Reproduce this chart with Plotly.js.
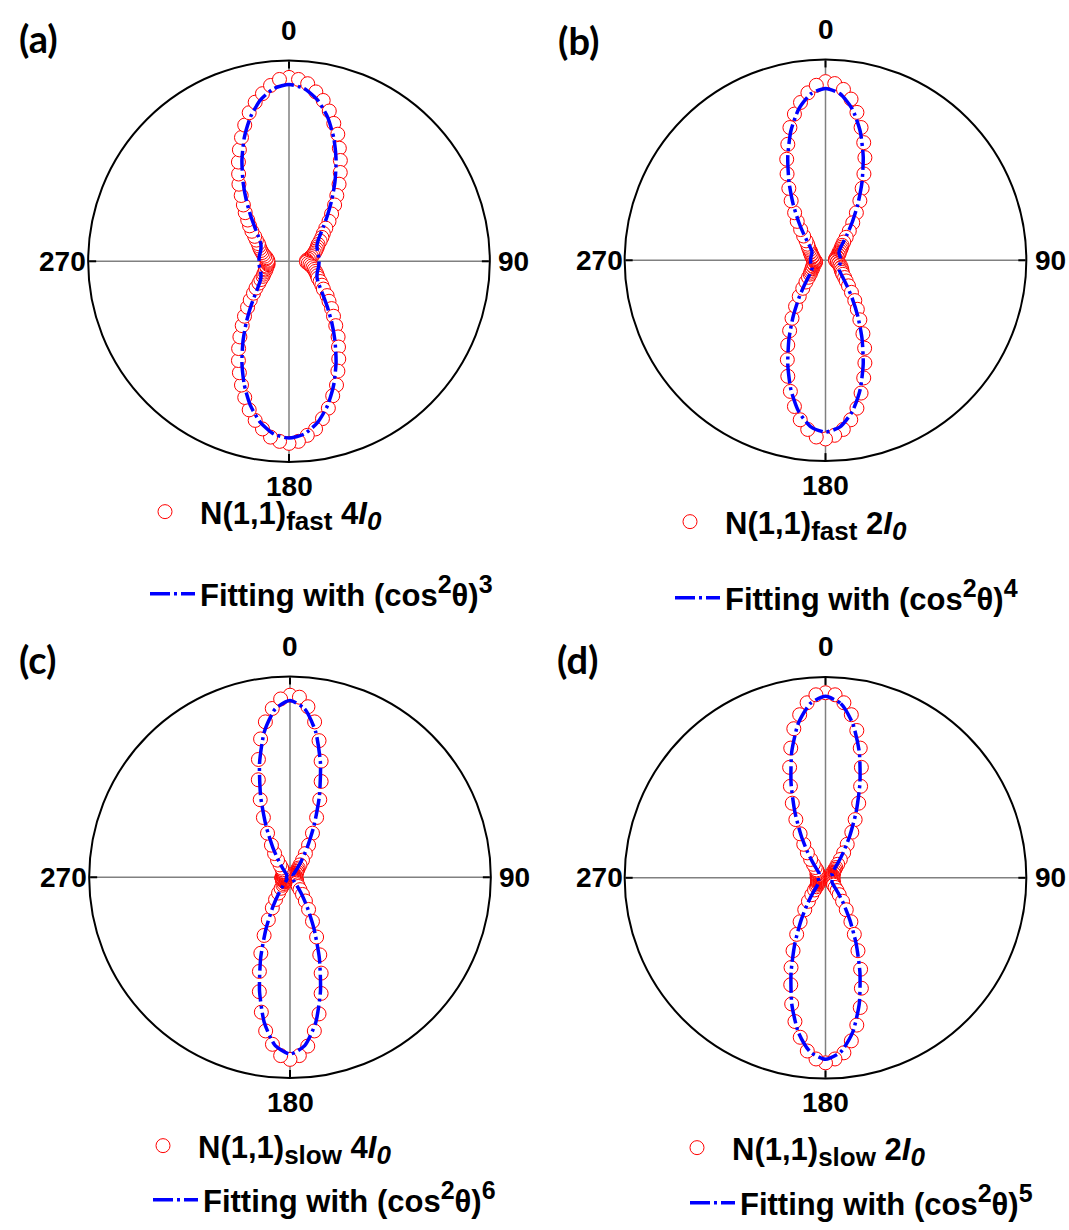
<!DOCTYPE html>
<html>
<head>
<meta charset="utf-8">
<script src="https://cdn.plot.ly/plotly-3.0.1.min.js"></script>
<style>
html,body{margin:0;padding:0;background:#ffffff;}
#chart{width:1069px;height:1230px;}
</style>
</head>
<body>
<div id="chart"></div>
<script>
// ---- labels ----
const panelLetters = ['(a)', '(b)', '(c)', '(d)'];
const SUB = s => '<sub><span style="font-size:26px">' + s + '</span></sub>';
const dataNames = [
  'N(1,1)' + SUB('fast') + ' 4<i>I</i>' + SUB('<i>0</i>'),
  'N(1,1)' + SUB('fast') + ' 2<i>I</i>' + SUB('<i>0</i>'),
  'N(1,1)' + SUB('slow') + ' 4<i>I</i>' + SUB('<i>0</i>'),
  'N(1,1)' + SUB('slow') + ' 2<i>I</i>' + SUB('<i>0</i>')
];
const SUP = s => '<sup><span style="font-size:25px">' + s + '</span></sup>';
const fitNames = [
  'Fitting with (cos' + SUP('2') + 'θ)' + SUP('3'),
  'Fitting with (cos' + SUP('2') + 'θ)' + SUP('4'),
  'Fitting with (cos' + SUP('2') + 'θ)' + SUP('6'),
  'Fitting with (cos' + SUP('2') + 'θ)' + SUP('5')
];
const angleTicks = [0, 90, 180, 270];
const angleLabels = ['0', '90', '180', '270'];

// ---- measured points (polarization angle, deg) ----
const dataAngles = [
  0,3,6,9,12,15,18,21,24,27,30,33,36,39,42,45,48,51,54,57,60,63,66,69,72,75,78,81,84,87,
  90,93,96,99,102,105,108,111,114,117,120,123,126,129,132,135,138,141,144,147,150,153,156,159,162,165,168,171,174,177,
  180,183,186,189,192,195,198,201,204,207,210,213,216,219,222,225,228,231,234,237,240,243,246,249,252,255,258,261,264,267,
  270,273,276,279,282,285,288,291,294,297,300,303,306,309,312,315,318,321,324,327,330,333,336,339,342,345,348,351,354,357
];
const dataA = [
  1.04,1.03,1.01,0.97,0.93,0.88,0.82,0.77,0.70,0.64,0.58,0.52,0.46,0.41,0.36,0.32,0.28,0.25,0.23,0.21,0.19,0.18,0.17,0.16,0.15,0.14,0.13,0.12,0.11,0.10,
  0.10,0.10,0.11,0.12,0.13,0.14,0.15,0.16,0.17,0.18,0.19,0.21,0.23,0.25,0.29,0.32,0.36,0.40,0.45,0.51,0.56,0.62,0.68,0.75,0.80,0.86,0.91,0.96,0.99,1.02,
  1.03,1.02,1.00,0.96,0.92,0.87,0.81,0.75,0.69,0.63,0.57,0.51,0.45,0.40,0.35,0.31,0.27,0.24,0.21,0.19,0.17,0.16,0.15,0.14,0.14,0.13,0.13,0.12,0.12,0.12,
  0.12,0.12,0.13,0.13,0.14,0.15,0.16,0.17,0.18,0.19,0.20,0.22,0.24,0.27,0.30,0.33,0.37,0.41,0.46,0.52,0.57,0.63,0.69,0.75,0.81,0.87,0.92,0.96,1.00,1.03
];
const dataB = [
  1.04,1.03,1.00,0.95,0.88,0.80,0.72,0.64,0.55,0.47,0.40,0.33,0.27,0.22,0.18,0.15,0.13,0.12,0.11,0.10,0.09,0.09,0.08,0.08,0.07,0.07,0.07,0.06,0.06,0.06,
  0.06,0.06,0.07,0.07,0.08,0.08,0.09,0.09,0.10,0.10,0.11,0.11,0.12,0.13,0.15,0.17,0.20,0.24,0.29,0.34,0.40,0.48,0.56,0.64,0.72,0.80,0.88,0.94,0.99,1.02,
  1.04,1.03,0.99,0.94,0.87,0.79,0.71,0.62,0.54,0.46,0.39,0.32,0.26,0.21,0.17,0.14,0.12,0.11,0.10,0.09,0.09,0.08,0.08,0.07,0.07,0.07,0.06,0.06,0.06,0.06,
  0.065,0.07,0.07,0.07,0.08,0.08,0.08,0.09,0.09,0.10,0.10,0.11,0.12,0.13,0.14,0.16,0.19,0.23,0.28,0.33,0.40,0.47,0.55,0.63,0.71,0.80,0.87,0.93,0.98,1.02
];
const dataC = [
  1.03,1.02,0.97,0.89,0.79,0.68,0.57,0.47,0.37,0.28,0.21,0.16,0.12,0.09,0.07,0.06,0.05,0.05,0.04,0.04,0.04,0.04,0.03,0.03,0.03,0.03,0.03,0.03,0.03,0.03,
  0.03,0.03,0.03,0.03,0.03,0.03,0.035,0.035,0.04,0.04,0.04,0.04,0.045,0.05,0.05,0.06,0.07,0.09,0.12,0.16,0.21,0.28,0.37,0.47,0.57,0.68,0.79,0.88,0.96,1.01,
  1.03,1.01,0.95,0.88,0.78,0.67,0.56,0.46,0.36,0.27,0.20,0.15,0.11,0.08,0.06,0.05,0.04,0.04,0.04,0.04,0.04,0.04,0.04,0.045,0.045,0.045,0.045,0.045,0.045,0.045,
  0.045,0.045,0.04,0.04,0.04,0.04,0.04,0.04,0.04,0.04,0.04,0.04,0.045,0.05,0.05,0.06,0.07,0.09,0.12,0.16,0.21,0.28,0.37,0.47,0.58,0.69,0.80,0.89,0.96,1.01
];
const dataD = [
  1.02,1.01,0.97,0.91,0.83,0.74,0.64,0.54,0.45,0.36,0.29,0.22,0.17,0.13,0.10,0.08,0.07,0.06,0.05,0.05,0.05,0.05,0.04,0.04,0.04,0.04,0.04,0.04,0.04,0.04,
  0.04,0.04,0.04,0.04,0.04,0.04,0.04,0.045,0.045,0.045,0.05,0.05,0.05,0.055,0.06,0.075,0.095,0.12,0.16,0.21,0.28,0.35,0.44,0.54,0.64,0.74,0.83,0.91,0.97,1.00,
  1.02,1.00,0.96,0.89,0.81,0.72,0.62,0.53,0.44,0.35,0.28,0.21,0.16,0.12,0.09,0.07,0.06,0.05,0.05,0.045,0.045,0.045,0.045,0.045,0.045,0.045,0.045,0.045,0.045,0.045,
  0.045,0.045,0.045,0.045,0.045,0.045,0.045,0.05,0.05,0.05,0.05,0.05,0.055,0.06,0.065,0.08,0.10,0.13,0.17,0.22,0.28,0.36,0.45,0.54,0.64,0.74,0.84,0.91,0.97,1.01
];

// ---- fitted curves ----
const fitAngles = [
  0,5,10,15,20,25,30,35,40,45,50,55,60,65,70,75,80,85,90,
  95,100,105,110,115,120,125,130,135,140,145,150,155,160,165,170,175,180,
  185,190,195,200,205,210,215,220,225,230,235,240,245,250,255,260,265,270,
  275,280,285,290,295,300,305,310,315,320,325,330,335,340,345,350,355,360
];
const fitA = [
  1.000,0.981,0.927,0.844,0.741,0.630,0.520,0.421,0.338,0.274,0.229,0.200,0.183,0.175,0.171,0.170,0.170,0.170,0.170,
  0.170,0.170,0.170,0.171,0.175,0.183,0.200,0.229,0.274,0.338,0.421,0.520,0.630,0.741,0.844,0.927,0.981,1.000,
  0.981,0.927,0.844,0.741,0.630,0.520,0.421,0.338,0.274,0.229,0.200,0.183,0.175,0.171,0.170,0.170,0.170,0.170,
  0.170,0.170,0.170,0.171,0.175,0.183,0.200,0.229,0.274,0.338,0.421,0.520,0.630,0.741,0.844,0.927,0.981,1.000
];
const fitB = [
  1.000,0.973,0.895,0.779,0.642,0.503,0.376,0.272,0.195,0.144,0.114,0.098,0.091,0.088,0.087,0.087,0.087,0.087,0.087,
  0.087,0.087,0.087,0.087,0.088,0.091,0.098,0.114,0.144,0.195,0.272,0.376,0.503,0.642,0.779,0.895,0.973,1.000,
  0.973,0.895,0.779,0.642,0.503,0.376,0.272,0.195,0.144,0.114,0.098,0.091,0.088,0.087,0.087,0.087,0.087,0.087,
  0.087,0.087,0.087,0.087,0.088,0.091,0.098,0.114,0.144,0.195,0.272,0.376,0.503,0.642,0.779,0.895,0.973,1.000
];
const fitC = [
  1.000,0.956,0.836,0.666,0.485,0.321,0.194,0.109,0.060,0.035,0.025,0.021,0.020,0.020,0.020,0.020,0.020,0.020,0.020,
  0.020,0.020,0.020,0.020,0.020,0.020,0.021,0.025,0.035,0.060,0.109,0.194,0.321,0.485,0.666,0.836,0.956,1.000,
  0.956,0.836,0.666,0.485,0.321,0.194,0.109,0.060,0.035,0.025,0.021,0.020,0.020,0.020,0.020,0.020,0.020,0.020,
  0.020,0.020,0.020,0.020,0.020,0.020,0.021,0.025,0.035,0.060,0.109,0.194,0.321,0.485,0.666,0.836,0.956,1.000
];
const fitD = [
  1.000,0.964,0.864,0.719,0.555,0.399,0.268,0.171,0.107,0.070,0.052,0.044,0.041,0.040,0.040,0.040,0.040,0.040,0.040,
  0.040,0.040,0.040,0.040,0.040,0.041,0.044,0.052,0.070,0.107,0.171,0.268,0.399,0.555,0.719,0.864,0.964,1.000,
  0.964,0.864,0.719,0.555,0.399,0.268,0.171,0.107,0.070,0.052,0.044,0.041,0.040,0.040,0.040,0.040,0.040,0.040,
  0.040,0.040,0.040,0.040,0.040,0.041,0.044,0.052,0.070,0.107,0.171,0.268,0.399,0.555,0.719,0.864,0.964,1.000
];
// outer radius of each polar frame (same units as the data)
const radialMax = [1.136, 1.169, 1.136, 1.107];

// ---- presentation ----
const W = 1069, H = 1230;
const FONT = 'Liberation Sans, Arial, sans-serif';
const allData = [dataA, dataB, dataC, dataD];
const allFit = [fitA, fitB, fitC, fitD];
// polar frame centres / radius in pixels
const frames = [
  {cx: 289, cy: 261.5, R: 201},
  {cx: 825.5, cy: 260.5, R: 201},
  {cx: 290, cy: 878, R: 201},
  {cx: 825.5, cy: 878.5, R: 201}
];
// legend rows: text start x and row centre y (pixels)
const dataLegPos = [{tx: 200, y: 512}, {tx: 725, y: 522}, {tx: 198, y: 1146}, {tx: 732, y: 1148}];
const fitLegPos = [{tx: 200, y: 594}, {tx: 725, y: 598}, {tx: 203, y: 1200}, {tx: 740, y: 1204}];
const letterPos = [{x: 38, y: 38}, {x: 578, y: 40}, {x: 37, y: 660}, {x: 577, y: 660}];

const traces = [];
const layout = {
  width: W, height: H,
  margin: {l: 0, r: 0, t: 0, b: 0},
  paper_bgcolor: '#ffffff',
  showlegend: true,
  annotations: []
};
const tickFont = {family: FONT, size: 28, color: '#000000', weight: 'bold'};
const legFont = {family: FONT, size: 31, color: '#000000', weight: 'bold'};

for (let i = 0; i < 4; i++) {
  const pk = i === 0 ? 'polar' : 'polar' + (i + 1);
  const lgData = i === 0 ? 'legend' : 'legend' + (2 * i + 1);
  const lgFit = 'legend' + (2 * i + 2);
  traces.push({
    type: 'scatterpolar', subplot: pk, mode: 'markers',
    r: allData[i], theta: dataAngles, name: dataNames[i],
    legend: lgData, showlegend: true,
    marker: {symbol: 'circle', size: 14, color: '#ffffff', line: {color: '#ff0000', width: 1}},
    hoverinfo: 'skip'
  });
  traces.push({
    type: 'scatterpolar', subplot: pk, mode: 'lines',
    r: allFit[i], theta: fitAngles, name: fitNames[i],
    legend: lgFit, showlegend: true,
    line: {color: '#0000ff', width: 3.5, dash: '20px,4px,3px,4px', shape: 'spline', smoothing: 0.6},
    hoverinfo: 'skip'
  });
  const f = frames[i];
  layout[pk] = {
    domain: {
      x: [(f.cx - f.R) / W, (f.cx + f.R) / W],
      y: [1 - (f.cy + f.R) / H, 1 - (f.cy - f.R) / H]
    },
    bgcolor: '#ffffff',
    radialaxis: {visible: false, range: [0, radialMax[i]]},
    angularaxis: {
      rotation: 90, direction: 'clockwise',
      tickmode: 'array', tickvals: angleTicks, ticktext: angleLabels,
      ticks: 'inside', ticklen: 7, tickwidth: 2, tickcolor: '#000000',
      showticklabels: false,
      showline: true, linecolor: '#000000', linewidth: 2,
      showgrid: true, gridcolor: '#808080', gridwidth: 1.5,
      tickfont: tickFont
    }
  };
  const dl = dataLegPos[i], fl = fitLegPos[i];
  layout[lgData] = {
    x: (dl.tx - 70) / W, y: 1 - dl.y / H, xanchor: 'left', yanchor: 'middle',
    bgcolor: 'rgba(0,0,0,0)', borderwidth: 0, itemwidth: 60, font: legFont
  };
  layout[lgFit] = {
    x: (fl.tx - 55) / W, y: 1 - fl.y / H, xanchor: 'left', yanchor: 'middle',
    bgcolor: 'rgba(0,0,0,0)', borderwidth: 0, itemwidth: 45, font: legFont
  };
  layout.annotations.push({
    xref: 'paper', yref: 'paper', x: letterPos[i].x / W, y: 1 - letterPos[i].y / H,
    xanchor: 'center', yanchor: 'middle', showarrow: false, text: panelLetters[i],
    font: {family: 'Lato, sans-serif', size: 38, color: '#000000', weight: 'bold'}
  });
  // angular tick labels (0 / 90 / 180 / 270) placed around each frame
  const lab = [
    {t: angleLabels[0], x: f.cx, y: f.cy - f.R - 30, xa: 'center'},
    {t: angleLabels[1], x: f.cx + f.R + 7, y: f.cy, xa: 'left'},
    {t: angleLabels[2], x: f.cx, y: f.cy + f.R + 24, xa: 'center'},
    {t: angleLabels[3], x: f.cx - f.R - 1, y: f.cy, xa: 'right'}
  ];
  lab.forEach(o => layout.annotations.push({
    xref: 'paper', yref: 'paper', x: o.x / W, y: 1 - o.y / H,
    xanchor: o.xa, yanchor: 'middle', showarrow: false, text: o.t,
    font: tickFont, borderpad: 0
  }));
}

Plotly.newPlot('chart', traces, layout, {displayModeBar: false, staticPlot: true});
</script>
</body>
</html>
